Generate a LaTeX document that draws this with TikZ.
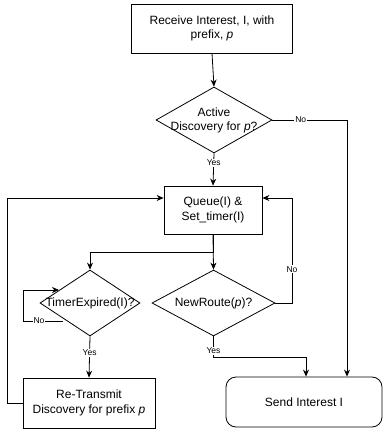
\documentclass[tikz,border=0pt]{standalone}
\usepackage{fontspec}
\setmainfont{Liberation Sans}
\usetikzlibrary{shapes.geometric,arrows.meta,calc}
\begin{document}
\begin{tikzpicture}[x=1bp,y=-1bp,
  box/.style={draw,line width=0.8bp,inner sep=0,fill=white},
  dia/.style={draw,diamond,line width=0.8bp,inner sep=0,fill=white},
  txt/.style={font=\fontsize{12bp}{14.5bp}\selectfont,align=center,inner sep=0},
  lbl/.style={font=\fontsize{8.5bp}{9.5bp}\selectfont,fill=white,inner sep=1bp},
  con/.style={line width=0.8bp},
  arr/.style={con,-{Stealth[length=7bp,width=6bp]}}]
\useasboundingbox (0,0) rectangle (383,433);
% nodes
\node[box,minimum width=161bp,minimum height=49bp,txt] (recv) at (212,28.5) {Receive Interest, I, with\\prefix, \textit{p}};
\node[dia,minimum width=116bp,minimum height=66bp] (act) at (214,120) {};
\node[txt] (actT) at (214,120.5) {Active\\Discovery for \textit{p}?};
\node[box,minimum width=98bp,minimum height=48bp,txt] (queue) at (213,210) {Queue(I) \&\\Set\_timer(I)};
\node[dia,minimum width=100bp,minimum height=66bp] (timer) at (90,303) {};
\node[txt] (timerT) at (90,303) {TimerExpired(I)?};
\node[dia,minimum width=123bp,minimum height=66bp] (newr) at (213.5,303) {};
\node[txt] (newrT) at (213.5,303) {NewRoute(\textit{p})?};
\node[box,minimum width=132bp,minimum height=50bp,txt] (retr) at (89,403) {Re-Transmit\\Discovery for prefix \textit{p}};
\node[box,rounded corners=10bp,minimum width=156bp,minimum height=50bp,txt] (send) at (304,402) {Send Interest I};
% coordinates
\coordinate (noC) at (347,120);
\coordinate (qIn) at ($(queue.west)+(0,-12)$);
\coordinate (qInR) at ($(queue.east)+(0,-12)$);
\coordinate (split) at (213,252);
\coordinate (nrR) at (292,303);
\coordinate (leftX) at (7,403);
\coordinate (tLoopA) at (63,321);
\coordinate (tLoopB) at (23,321);
\coordinate (tLoopC) at (23,290);
\coordinate (tLoopD) at (59,290);
\coordinate (yesC) at (213.5,357);
\coordinate (sendIn) at (306,357);
% connectors
\draw[arr] (recv.south) -- (act.north);
\draw[arr] (act.east) -- node[lbl,pos=0.38]{No} (noC) -- (noC |- send.north);
\draw[arr] (act.south) -- node[lbl,pos=0.3]{Yes} (queue.north);
\draw[arr] (queue.south) -- (newr.north);
\draw[arr] (queue.south) -- (split) -| (timer.north);
\draw[arr] (newr.east) -- (nrR) -- node[lbl,pos=0.32]{No} (nrR |- qInR) -- (qInR);
\draw[arr] (tLoopA) -- node[lbl,pos=0.6]{No} (tLoopB) -- (tLoopC) -- (tLoopD);
\draw[arr] (timer.south) -- node[lbl,pos=0.4]{Yes} (retr.north);
\draw[arr] (retr.west) -- (leftX) |- (qIn);
\draw[arr] (newr.south) -- (yesC) -- (sendIn) -- (sendIn |- send.north);
\node[lbl] (yesL) at (213.5,351) {Yes};
\end{tikzpicture}
\end{document}
